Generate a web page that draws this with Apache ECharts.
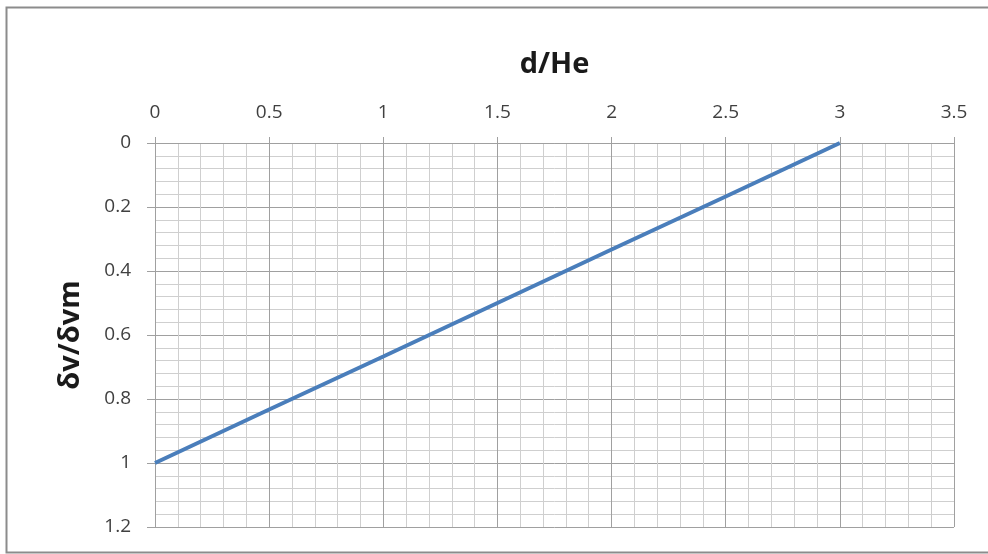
<!DOCTYPE html>
<html>
<head>
<meta charset="utf-8">
<script src="https://cdn.jsdelivr.net/npm/echarts@6/dist/echarts.min.js"></script>
<style>
  html, body { margin: 0; padding: 0; background: #ffffff; }
  #chart { width: 988px; height: 554px; }
</style>
</head>
<body>
<div id="chart"></div>
<script>
// Relative distance d/He and the corresponding ratio δv/δvm
const dHe = [0, 0.5, 1, 1.5, 2, 2.5, 3];
const dvRatio = [1, 0.833, 0.667, 0.5, 0.333, 0.167, 0];

const xTicks = [0, 0.5, 1, 1.5, 2, 2.5, 3, 3.5];
const yTicks = [0, 0.2, 0.4, 0.6, 0.8, 1, 1.2];

const labelFont = { color: '#404040', fontSize: 19, fontFamily: 'Open Sans' };
const nameFont = { color: '#1a1a1a', fontSize: 29, fontWeight: 'bold', fontFamily: 'Open Sans' };

const chart = echarts.init(document.getElementById('chart'), null, { renderer: 'canvas' });
chart.setOption({
  animation: false,
  backgroundColor: '#ffffff',
  graphic: [{
    type: 'rect',
    left: 4, top: 5,
    shape: { width: 1000, height: 545 },
    style: { fill: 'none', stroke: '#8c8c8c', lineWidth: 2 },
    silent: true
  }],
  grid: { left: 155, right: 34, top: 143, bottom: 27, containLabel: false },
  xAxis: {
    type: 'value',
    position: 'top',
    min: xTicks[0], max: xTicks[xTicks.length - 1], interval: 0.5,
    name: 'd/He',
    nameLocation: 'middle',
    nameGap: 64,
    nameTextStyle: nameFont,
    axisLine: { show: true, lineStyle: { color: '#a0a0a0', width: 1 } },
    axisTick: { show: true, length: 6, lineStyle: { color: '#a0a0a0' } },
    axisLabel: Object.assign({ margin: 21 }, labelFont),
    splitLine: { show: true, lineStyle: { color: '#a0a0a0', width: 1 } },
    minorTick: { show: false, splitNumber: 5 },
    minorSplitLine: { show: true, lineStyle: { color: '#cfcfcf', width: 1 } }
  },
  yAxis: {
    type: 'value',
    inverse: true,
    min: yTicks[0], max: yTicks[yTicks.length - 1], interval: 0.2,
    name: 'δv/δvm',
    nameLocation: 'middle',
    nameGap: 70,
    nameRotate: 90,
    nameTextStyle: nameFont,
    axisLine: { show: true, lineStyle: { color: '#a0a0a0', width: 1 } },
    axisTick: { show: true, length: 8, lineStyle: { color: '#a0a0a0' } },
    axisLabel: Object.assign({ margin: 24, formatter: v => String(Math.round(v * 10) / 10) }, labelFont),
    splitLine: { show: true, lineStyle: { color: '#a0a0a0', width: 1 } },
    minorTick: { show: false, splitNumber: 5 },
    minorSplitLine: { show: true, lineStyle: { color: '#cfcfcf', width: 1 } }
  },
  series: [{
    type: 'line',
    data: dHe.map((x, i) => [x, dvRatio[i]]),
    showSymbol: false,
    symbol: 'none',
    lineStyle: { color: '#4a7ebb', width: 4 },
    z: 5
  }]
});
</script>
</body>
</html>
